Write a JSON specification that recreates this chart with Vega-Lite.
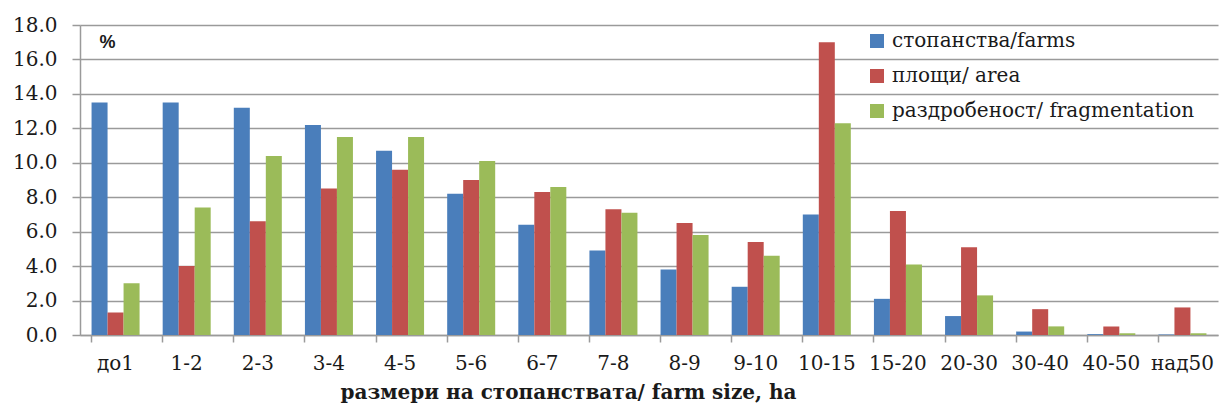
{
  "$schema": "https://vega.github.io/schema/vega-lite/v6.json",
  "autosize": "none",
  "width": 1138,
  "height": 310,
  "padding": {"left": 80, "top": 25, "right": 2, "bottom": 72},
  "background": "white",
  "data": {
    "values": [
      {"size": "до1", "series": "стопанства/farms", "v": 13.5},
      {"size": "до1", "series": "площи/ area", "v": 1.3},
      {"size": "до1", "series": "раздробеност/ fragmentation", "v": 3.0},
      {"size": "1-2", "series": "стопанства/farms", "v": 13.5},
      {"size": "1-2", "series": "площи/ area", "v": 4.0},
      {"size": "1-2", "series": "раздробеност/ fragmentation", "v": 7.4},
      {"size": "2-3", "series": "стопанства/farms", "v": 13.2},
      {"size": "2-3", "series": "площи/ area", "v": 6.6},
      {"size": "2-3", "series": "раздробеност/ fragmentation", "v": 10.4},
      {"size": "3-4", "series": "стопанства/farms", "v": 12.2},
      {"size": "3-4", "series": "площи/ area", "v": 8.5},
      {"size": "3-4", "series": "раздробеност/ fragmentation", "v": 11.5},
      {"size": "4-5", "series": "стопанства/farms", "v": 10.7},
      {"size": "4-5", "series": "площи/ area", "v": 9.6},
      {"size": "4-5", "series": "раздробеност/ fragmentation", "v": 11.5},
      {"size": "5-6", "series": "стопанства/farms", "v": 8.2},
      {"size": "5-6", "series": "площи/ area", "v": 9.0},
      {"size": "5-6", "series": "раздробеност/ fragmentation", "v": 10.1},
      {"size": "6-7", "series": "стопанства/farms", "v": 6.4},
      {"size": "6-7", "series": "площи/ area", "v": 8.3},
      {"size": "6-7", "series": "раздробеност/ fragmentation", "v": 8.6},
      {"size": "7-8", "series": "стопанства/farms", "v": 4.9},
      {"size": "7-8", "series": "площи/ area", "v": 7.3},
      {"size": "7-8", "series": "раздробеност/ fragmentation", "v": 7.1},
      {"size": "8-9", "series": "стопанства/farms", "v": 3.8},
      {"size": "8-9", "series": "площи/ area", "v": 6.5},
      {"size": "8-9", "series": "раздробеност/ fragmentation", "v": 5.8},
      {"size": "9-10", "series": "стопанства/farms", "v": 2.8},
      {"size": "9-10", "series": "площи/ area", "v": 5.4},
      {"size": "9-10", "series": "раздробеност/ fragmentation", "v": 4.6},
      {"size": "10-15", "series": "стопанства/farms", "v": 7.0},
      {"size": "10-15", "series": "площи/ area", "v": 17.0},
      {"size": "10-15", "series": "раздробеност/ fragmentation", "v": 12.3},
      {"size": "15-20", "series": "стопанства/farms", "v": 2.1},
      {"size": "15-20", "series": "площи/ area", "v": 7.2},
      {"size": "15-20", "series": "раздробеност/ fragmentation", "v": 4.1},
      {"size": "20-30", "series": "стопанства/farms", "v": 1.1},
      {"size": "20-30", "series": "площи/ area", "v": 5.1},
      {"size": "20-30", "series": "раздробеност/ fragmentation", "v": 2.3},
      {"size": "30-40", "series": "стопанства/farms", "v": 0.2},
      {"size": "30-40", "series": "площи/ area", "v": 1.5},
      {"size": "30-40", "series": "раздробеност/ fragmentation", "v": 0.5},
      {"size": "40-50", "series": "стопанства/farms", "v": 0.05},
      {"size": "40-50", "series": "площи/ area", "v": 0.5},
      {"size": "40-50", "series": "раздробеност/ fragmentation", "v": 0.1},
      {"size": "над50", "series": "стопанства/farms", "v": 0.03},
      {"size": "над50", "series": "площи/ area", "v": 1.6},
      {"size": "над50", "series": "раздробеност/ fragmentation", "v": 0.1}
    ]
  },
  "mark": {"type": "bar"},
  "encoding": {
    "x": {
      "field": "size",
      "type": "nominal",
      "sort": null,
      "scale": {"paddingInner": 0.325, "paddingOuter": 0.1625},
      "axis": {
        "title": "размери на стопанствата/ farm size, ha",
        "titleFont": "DejaVu Serif",
        "titleFontSize": 20,
        "titleFontWeight": "bold",
        "titleColor": "#1a1a1a",
        "titleX": 488,
        "titleY": 47,
        "titleAnchor": "middle",
        "titleBaseline": "top",
        "labelAngle": 0,
        "labelFont": "DejaVu Serif",
        "labelFontSize": 20,
        "labelColor": "#1a1a1a",
        "labelPadding": 11,
        "bandPosition": 0,
        "ticks": true,
        "tickSize": 7,
        "tickColor": "#9a9a9a",
        "tickWidth": 1.5,
        "domainColor": "#9a9a9a",
        "domainWidth": 1.5,
        "grid": false
      }
    },
    "xOffset": {
      "field": "series",
      "type": "nominal",
      "scale": {"domain": ["стопанства/farms", "площи/ area", "раздробеност/ fragmentation"]}
    },
    "y": {
      "field": "v",
      "type": "quantitative",
      "scale": {"domain": [0, 18], "nice": false},
      "axis": {
        "title": "%",
        "titleFont": "Liberation Sans",
        "titleFontSize": 18,
        "titleFontWeight": "bold",
        "titleColor": "#1a1a1a",
        "titleAngle": 0,
        "titleAlign": "left",
        "titleBaseline": "alphabetic",
        "titleX": 19,
        "titleY": 22,
        "values": [0, 2, 4, 6, 8, 10, 12, 14, 16, 18],
        "format": ".1f",
        "labelFont": "DejaVu Serif",
        "labelFontSize": 20,
        "labelColor": "#1a1a1a",
        "labelPadding": 15,
        "tickSize": 8,
        "tickColor": "#9a9a9a",
        "tickWidth": 1.5,
        "domainColor": "#9a9a9a",
        "domainWidth": 1.5,
        "grid": true,
        "gridColor": "#9a9a9a",
        "gridWidth": 1.5
      }
    },
    "color": {
      "field": "series",
      "type": "nominal",
      "scale": {
        "domain": ["стопанства/farms", "площи/ area", "раздробеност/ fragmentation"],
        "range": ["#4a7ebb", "#c0504d", "#9bbb59"]
      },
      "legend": {
        "title": null,
        "orient": "none",
        "legendX": 787,
        "legendY": 6,
        "symbolType": "square",
        "symbolSize": 196,
        "symbolStrokeWidth": 0,
        "labelFont": "DejaVu Serif",
        "labelFontSize": 20,
        "labelColor": "#1a1a1a",
        "labelOffset": 5,
        "rowPadding": 15,
        "labelLimit": 400
      }
    }
  },
  "config": {
    "view": {"stroke": null}
  }
}
